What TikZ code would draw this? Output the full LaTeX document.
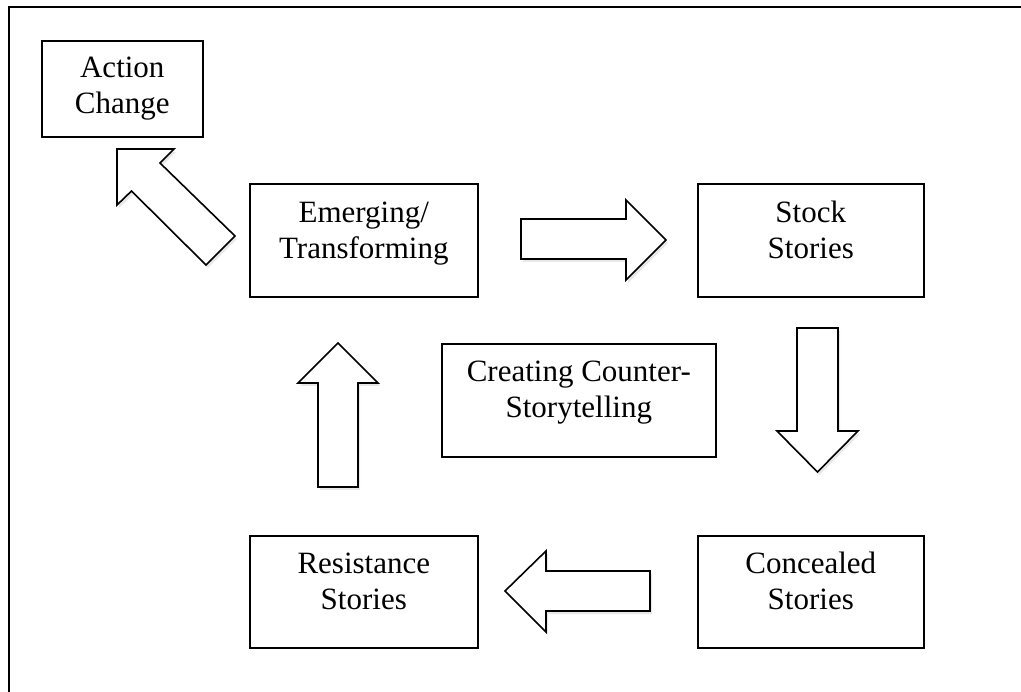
\documentclass[tikz,border=0pt]{standalone}
\usepackage{fontspec}
\setmainfont{Liberation Serif}
\usetikzlibrary{shadows,calc}
\begin{document}
\begin{tikzpicture}[x=1pt,y=-1pt,
  box/.style={draw, line width=1.6pt, inner sep=0pt, anchor=north west},
  lbl/.style={font=\fontsize{31}{36}\selectfont, align=center, anchor=base, inner sep=0pt},
  blockarrow/.style={draw, line width=1.6pt, line join=miter, fill=white,
    drop shadow={shadow xshift=2pt, shadow yshift=-3pt, opacity=0.18}}]
\useasboundingbox (0,0) rectangle (1021,692);
% outer frame (top and left edges)
\draw[line width=1.6pt] (9,692) -- (9,7) -- (1021,7);
% boxes
\node[box, minimum width=161pt, minimum height=96pt] (action) at (41,40) {};
\node[box, minimum width=228pt, minimum height=113pt] (emerg) at (249,183) {};
\node[box, minimum width=226pt, minimum height=113pt] (stock) at (697,183) {};
\node[box, minimum width=274pt, minimum height=113pt] (create) at (441,343) {};
\node[box, minimum width=226pt, minimum height=112pt] (conceal) at (697,535) {};
\node[box, minimum width=228pt, minimum height=112pt] (resist) at (249,535) {};
% labels (anchor = baseline of the last line)
\node[lbl] (t1) at ($(action.north)+(0,74)$) {Action\\Change};
\node[lbl] (t2) at ($(emerg.north)+(0,76)$) {Emerging/\\Transforming};
\node[lbl] (t3) at ($(stock.north)+(0,76)$) {Stock\\Stories};
\node[lbl] (t4) at ($(create.north)+(0,75)$) {Creating Counter-\\Storytelling};
\node[lbl] (t5) at ($(conceal.north)+(0,74)$) {Concealed\\Stories};
\node[lbl] (t6) at ($(resist.north)+(0,74)$) {Resistance\\Stories};
% block arrows
\draw[blockarrow] (521,219) -- (626,219) -- (626,200) -- (666,240) -- (626,280) -- (626,259) -- (521,259) -- cycle;
\draw[blockarrow] (797,328) -- (838,328) -- (838,431) -- (858,431) -- (817.5,472) -- (777,431) -- (797,431) -- cycle;
\draw[blockarrow] (650,571) -- (546,571) -- (546,551) -- (505,591) -- (546,632) -- (546,611) -- (650,611) -- cycle;
\draw[blockarrow] (318,487) -- (318,383) -- (298,383) -- (338,343) -- (378,383) -- (358,383) -- (358,487) -- cycle;
\draw[blockarrow] (117,149) -- (174,149) -- (160,163) -- (235,236) -- (206,265) -- (131.5,191) -- (117,205) -- cycle;
\end{tikzpicture}
\end{document}
